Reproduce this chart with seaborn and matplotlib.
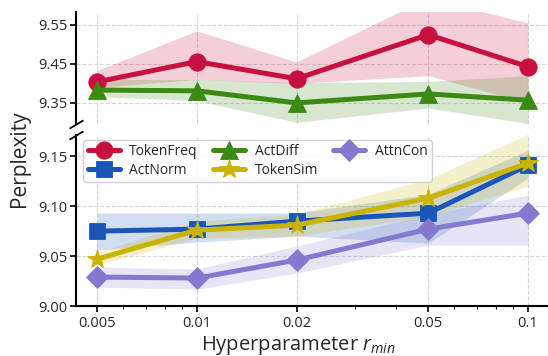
import numpy as np
import pandas as pd
import matplotlib
matplotlib.use("Agg")
import matplotlib.pyplot as plt
import seaborn as sns

# Hyperparameter sweep
r_min = [0.005, 0.01, 0.02, 0.05, 0.1]
tick_labels = ["0.005", "0.01", "0.02", "0.05", "0.1"]

methods = ["TokenFreq", "ActNorm", "ActDiff", "TokenSim", "AttnCon"]

token_freq = [9.404, 9.456, 9.412, 9.525, 9.443]
token_freq_lo = [9.390, 9.410, 9.400, 9.420, 9.350]
token_freq_hi = [9.433, 9.535, 9.455, 9.620, 9.555]

act_norm = [9.075, 9.077, 9.085, 9.093, 9.141]
act_norm_lo = [9.056, 9.064, 9.070, 9.063, 9.128]
act_norm_hi = [9.093, 9.093, 9.093, 9.112, 9.156]

act_diff = [9.383, 9.381, 9.350, 9.373, 9.357]
act_diff_lo = [9.366, 9.356, 9.300, 9.337, 9.297]
act_diff_hi = [9.410, 9.410, 9.402, 9.405, 9.420]

token_sim = [9.047, 9.076, 9.081, 9.108, 9.143]
token_sim_lo = [9.041, 9.068, 9.070, 9.090, 9.120]
token_sim_hi = [9.054, 9.085, 9.092, 9.127, 9.172]

attn_con = [9.029, 9.028, 9.046, 9.077, 9.093]
attn_con_lo = [9.019, 9.017, 9.033, 9.061, 9.061]
attn_con_hi = [9.039, 9.037, 9.060, 9.092, 9.111]

colors = {
    "TokenFreq": "#C8103F",
    "ActNorm": "#1A56B8",
    "ActDiff": "#3A8A13",
    "TokenSim": "#C9B400",
    "AttnCon": "#8479CF",
}
markers = {"TokenFreq": "o", "ActNorm": "s", "ActDiff": "^", "TokenSim": "*", "AttnCon": "D"}
msize = {"TokenFreq": 12.5, "ActNorm": 12, "ActDiff": 12.5, "TokenSim": 14.5, "AttnCon": 11.5}

series = {
    "TokenFreq": (token_freq, token_freq_lo, token_freq_hi),
    "ActNorm": (act_norm, act_norm_lo, act_norm_hi),
    "ActDiff": (act_diff, act_diff_lo, act_diff_hi),
    "TokenSim": (token_sim, token_sim_lo, token_sim_hi),
    "AttnCon": (attn_con, attn_con_lo, attn_con_hi),
}

rows = []
for m in methods:
    for x, y in zip(r_min, series[m][0]):
        rows.append({"r_min": x, "ppl": y, "method": m})
df = pd.DataFrame(rows)

sns.set_theme(style="whitegrid")
plt.rcParams["font.family"] = ["Open Sans", "DejaVu Sans"]
plt.rcParams["mathtext.fontset"] = "custom"
plt.rcParams["mathtext.it"] = "Open Sans:italic"
plt.rcParams["mathtext.rm"] = "Open Sans"

fig = plt.figure(figsize=(5.48, 3.56), dpi=100)
gs = fig.add_gridspec(2, 1, height_ratios=[112, 171], hspace=0.08,
                      left=0.139, right=1.0, top=0.966, bottom=0.1404)
ax_top = fig.add_subplot(gs[0])
ax_bot = fig.add_subplot(gs[1], sharex=ax_top)

for ax in (ax_top, ax_bot):
    for m in methods:
        _, lo, hi = series[m]
        ax.fill_between(r_min, lo, hi, color=colors[m], alpha=0.2, linewidth=0, zorder=1)
    for m in methods:
        sub = df[df["method"] == m]
        sns.lineplot(data=sub, x="r_min", y="ppl", ax=ax, color=colors[m],
                     marker=markers[m], markersize=msize[m], linewidth=3.6,
                     markeredgewidth=0.6, markeredgecolor=colors[m],
                     label=m, legend=False, zorder=3)
    ax.set_xscale("log")
    ax.set_xlim(0.00432, 0.115)
    ax.grid(True, which="major", linestyle="--", linewidth=0.8, color="#d6d6d6")
    ax.grid(False, which="minor")
    ax.set_xlabel("")
    ax.set_ylabel("")
    ax.set_facecolor("white")
    for s in ("top", "right"):
        ax.spines[s].set_visible(False)
    ax.spines["left"].set_color("black")
    ax.spines["left"].set_linewidth(1.5)
    ax.tick_params(axis="y", which="major", left=True, length=4, width=1.2,
                   color="black", labelsize=10.5, pad=2)

ax_top.set_ylim(9.296, 9.583)
ax_top.set_yticks([9.35, 9.45, 9.55])
ax_top.set_yticklabels(["9.35", "9.45", "9.55"])
ax_top.spines["bottom"].set_visible(False)
ax_top.tick_params(axis="x", which="both", bottom=False, labelbottom=False)

ax_bot.set_ylim(9.0, 9.171)
ax_bot.set_yticks([9.00, 9.05, 9.10, 9.15])
ax_bot.set_yticklabels(["9.00", "9.05", "9.10", "9.15"])
ax_bot.spines["bottom"].set_color("black")
ax_bot.spines["bottom"].set_linewidth(1.5)
ax_bot.set_xticks(r_min)
ax_bot.set_xticklabels(tick_labels)
ax_bot.tick_params(axis="x", which="major", bottom=True, length=4, width=1.2,
                   color="black", labelsize=10.5, pad=3)
ax_bot.tick_params(axis="x", which="minor", bottom=True, length=2.5, width=0.8,
                   color="black")

# break marks on the left spine
d = 0.6
kw = dict(marker=[(-1, -d), (1, d)], markersize=10, linestyle="none",
          color="black", mec="black", mew=1.3, clip_on=False)
ax_top.plot([0], [0], transform=ax_top.transAxes, **kw)
ax_bot.plot([0], [1], transform=ax_bot.transAxes, **kw)

handles = [ax_bot.lines[i] for i in range(len(methods))]
leg = ax_bot.legend(handles, methods, ncol=3, loc="upper left",
                    bbox_to_anchor=(0.005, 1.0), fontsize=10, frameon=True,
                    fancybox=True, framealpha=0.9, edgecolor="#cccccc",
                    handlelength=2.3, columnspacing=1.1, labelspacing=0.25,
                    borderpad=0.3, handletextpad=0.7, borderaxespad=0.35)

fig.text(0.035, 0.555, "Perplexity", rotation=90, ha="center", va="center", fontsize=15)
fig.text(0.545, 0.03, r"Hyperparameter $r_{min}$", ha="center", va="center", fontsize=14.5)

fig.savefig("out.png", dpi=100)
